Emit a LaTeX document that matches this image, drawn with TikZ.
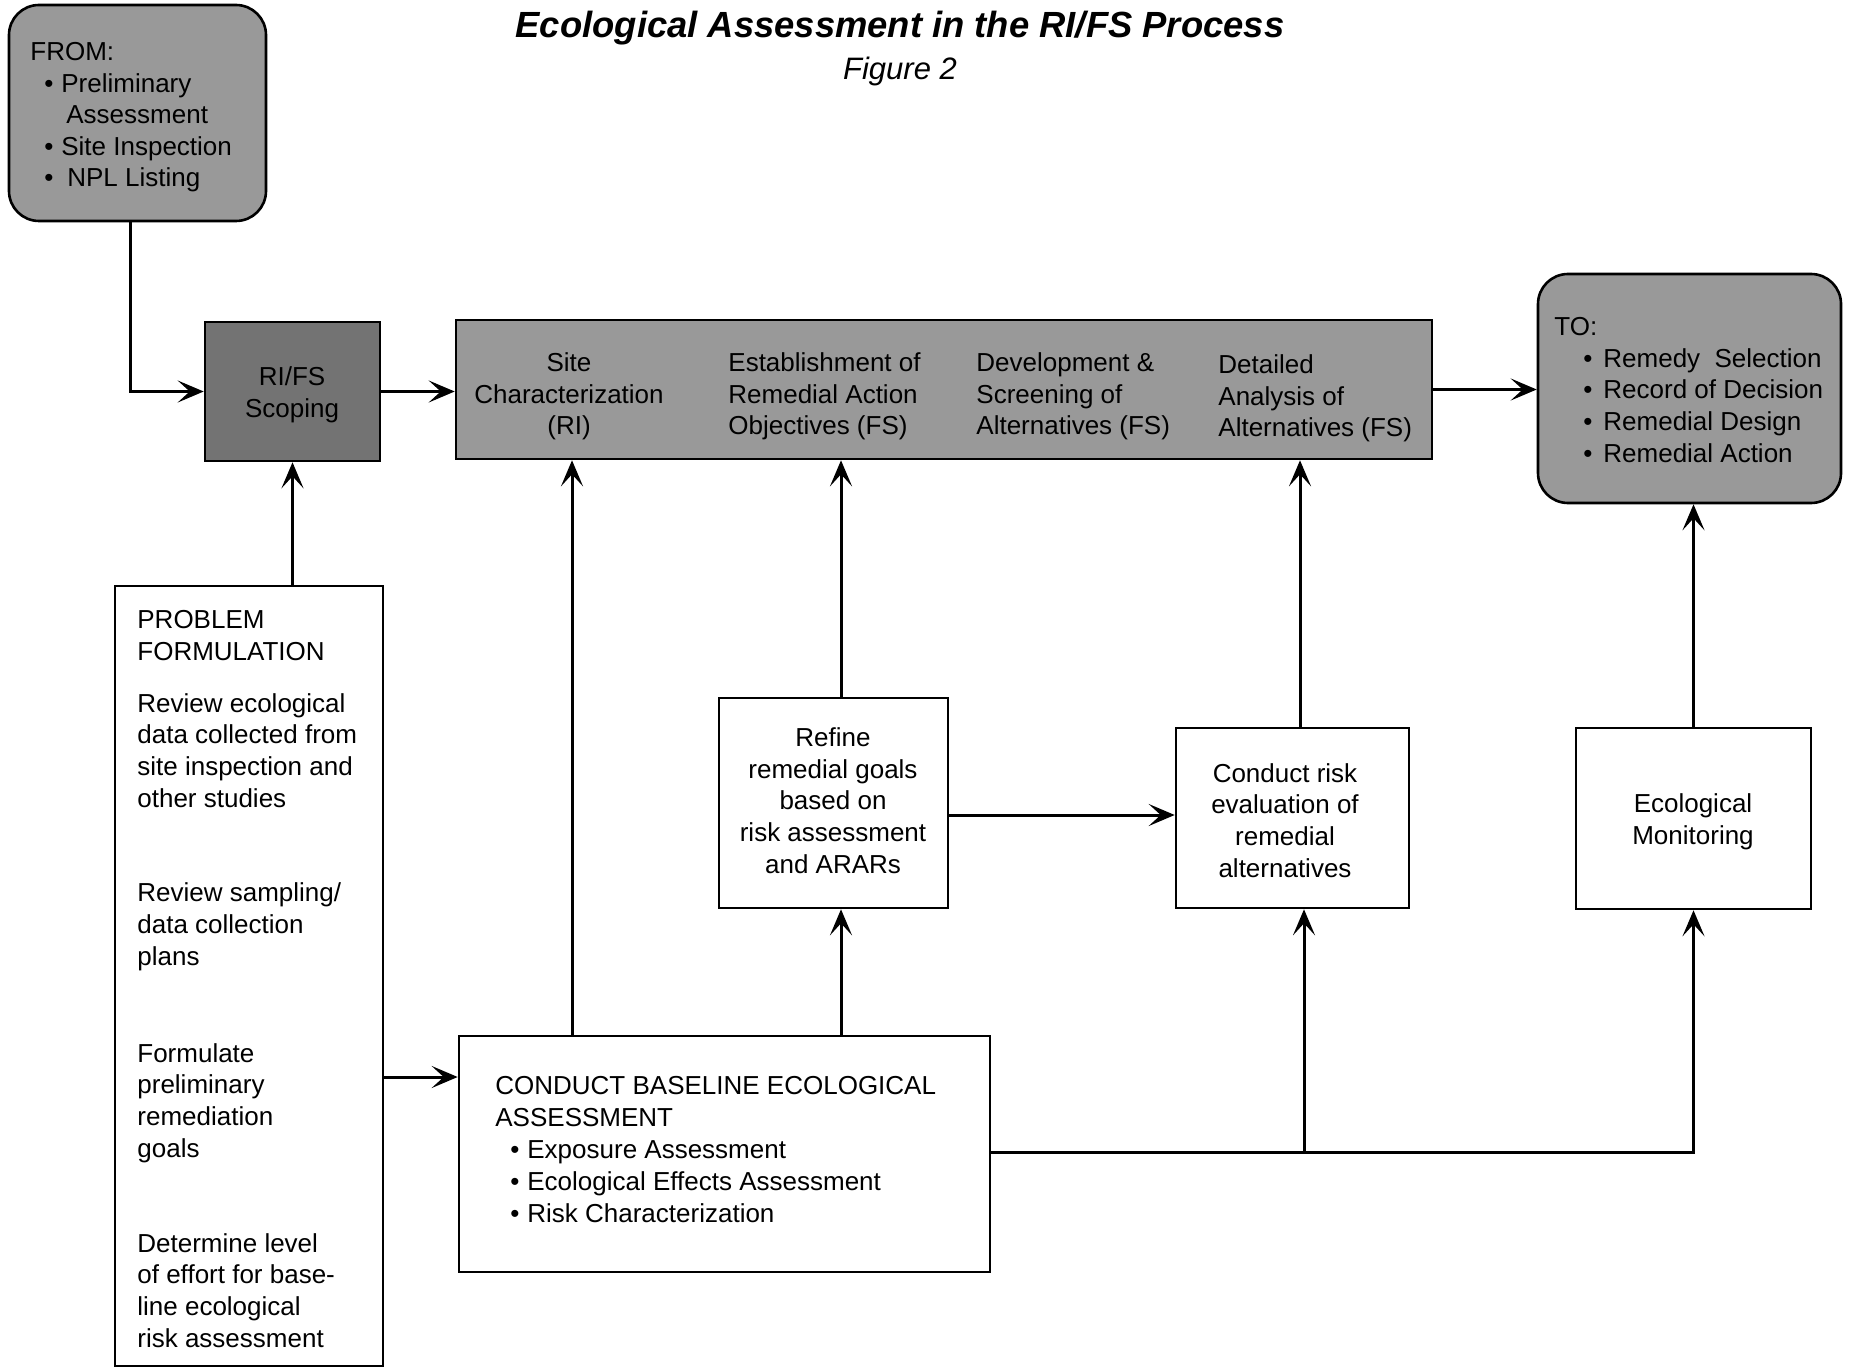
\documentclass[tikz,border=0pt]{standalone}
\usepackage{fontspec}
\setmainfont{Liberation Sans}
\usetikzlibrary{arrows.meta,fit}
\newcommand\mybul{\makebox[8.5pt][l]{•}}
\newcommand\mybulw{\makebox[10pt][l]{•}}
\begin{document}
\begin{tikzpicture}[x=0.5pt,y=-0.5pt,
  box/.style={draw, line width=1.3pt, inner sep=0pt},
  shaded/.style={box, fill=black!40},
  txt/.style={font=\fontsize{13}{15.8}\selectfont, inner sep=0pt, align=left},
  ctxt/.style={txt, align=center},
  conn/.style={line width=1.5pt, -{Stealth[length=13pt,width=11pt,inset=6pt]}},
  plain/.style={line width=1.5pt}]
\useasboundingbox (0,0) rectangle (1852,1369);

% title
\node[font=\fontsize{18.2}{22}\selectfont\bfseries\itshape] (title) at (900,28) {Ecological Assessment in the RI/FS Process};
\node[font=\fontsize{15.5}{18}\selectfont\itshape] (fig) at (900,71) {Figure 2};

% boxes
\node[shaded, rounded corners=15pt, fit={(9,5)(266,221)}] (from) {};
\node[box, fill=black!55, fit={(205,322)(380,461)}] (scope) {};
\node[shaded, fit={(456,320)(1432,459)}] (rifs) {};
\node[shaded, rounded corners=15pt, fit={(1538,274)(1841,503)}] (to) {};
\node[box, fit={(115,586)(383,1366)}] (prob) {};
\node[box, fit={(719,698)(948,908)}] (refine) {};
\node[box, fit={(1176,728)(1409,908)}] (risk) {};
\node[box, fit={(1576,728)(1811,909)}] (monit) {};
\node[box, fit={(459,1036)(990,1272)}] (base) {};

% texts (base anchor = baseline of last line)
\node[txt, anchor=base west] (fromT) at (30,187) {FROM:\\
\hspace*{7pt}\mybul Preliminary\\
\hspace*{18pt}Assessment\\
\hspace*{7pt}\mybul Site Inspection\\
\hspace*{7pt}\mybul\hspace*{3pt}NPL Listing};

\node[txt, anchor=base west] (toT) at (1554,462) {TO:\\
\hspace*{14.5pt}\mybulw Remedy\ \ Selection\\
\hspace*{14.5pt}\mybulw Record of Decision\\
\hspace*{14.5pt}\mybulw Remedial Design\\
\hspace*{14.5pt}\mybulw Remedial Action};

\node[ctxt, anchor=base] (scopeT) at (292,417) {RI/FS\\Scoping};
\node[ctxt, anchor=base] (siteT) at (569,435) {Site\\Characterization\\(RI)};
\node[txt, anchor=base west] (estT) at (728,435) {Establishment of\\Remedial Action\\Objectives (FS)};
\node[txt, anchor=base west] (devT) at (976,435) {Development \&\\Screening of\\Alternatives (FS)};
\node[txt, anchor=base west] (detT) at (1218,437) {Detailed\\Analysis of\\Alternatives (FS)};

\node[txt, anchor=base west] (probT1) at (137,660) {PROBLEM\\FORMULATION};
\node[txt, anchor=base west] (probT2) at (137,807) {Review ecological\\data collected from\\site inspection and\\other studies};
\node[txt, anchor=base west] (probT3) at (137,965) {Review sampling/\\data collection\\plans};
\node[txt, anchor=base west] (probT4) at (137,1157) {Formulate\\preliminary\\remediation\\goals};
\node[txt, anchor=base west] (probT5) at (137,1347) {Determine level\\of effort for base-\\line ecological\\risk assessment};

\node[ctxt, anchor=base] (refineT) at (833,873) {Refine\\remedial goals\\based on\\risk assessment\\and ARARs};
\node[ctxt, anchor=base] (riskT) at (1285,877) {Conduct risk\\evaluation of\\remedial\\alternatives};
\node[ctxt, anchor=base] (monitT) at (1693,844) {Ecological\\Monitoring};
\node[txt, anchor=base west, font=\fontsize{13}{16}\selectfont] (baseT) at (495,1222) {CONDUCT BASELINE ECOLOGICAL\\ASSESSMENT\\
\hspace*{7.5pt}\mybul Exposure Assessment\\
\hspace*{7.5pt}\mybul Ecological Effects Assessment\\
\hspace*{7.5pt}\mybul Risk Characterization};

% helper coordinates
\coordinate (xA) at (130,0);
\coordinate (xB) at (572,0);
\coordinate (xC) at (841,0);
\coordinate (xD) at (1300,0);
\coordinate (xE) at (1304,0);
\coordinate (yA) at (0,1077);
\coordinate (yB) at (0,815);
\coordinate (yC) at (0,1152);

% connectors
\draw[conn] (from.south -| xA) |- (scope.west);
\draw[conn] (scope.east) -- (scope.east -| rifs.west);
\draw[conn] (rifs.east) -- (rifs.east -| to.west);
\draw[conn] (scope.south |- prob.north) -- (scope.south);
\draw[conn] (prob.east |- yA) -- (base.west |- yA);
\draw[conn] (base.north -| xB) -- (rifs.south -| xB);
\draw[conn] (base.north -| xC) -- (refine.south -| xC);
\draw[conn] (refine.north -| xC) -- (rifs.south -| xC);
\draw[conn] (refine.east |- yB) -- (risk.west |- yB);
\draw[conn] (risk.north -| xD) -- (rifs.south -| xD);
\draw[conn] (base.east |- yC) -| (monit.south);
\draw[conn] (xE |- yC) -- (risk.south -| xE);
\draw[conn] (monit.north) -- (to.south -| monit.north);
\end{tikzpicture}
\end{document}
